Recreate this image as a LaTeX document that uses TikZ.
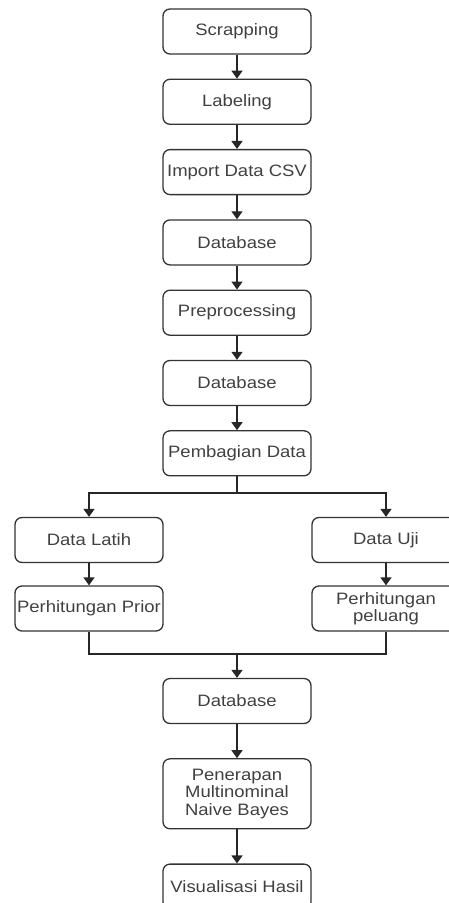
\documentclass[tikz,border=0pt]{standalone}
\usepackage{fontspec}
\setmainfont{Liberation Sans}[FakeStretch=1.12]
\usepackage{xcolor}
\usetikzlibrary{arrows.meta, positioning}

\begin{document}
\begin{tikzpicture}[
    x=1pt, y=1pt,
    font=\fontsize{16.5}{17.5}\selectfont,
    proc/.style={rectangle, rounded corners=7pt, draw=black!80, line width=1.3pt,
                 minimum width=148pt, minimum height=#1, inner sep=2pt,
                 align=center, text=black!75},
    proc/.default=45pt,
    arr/.style={-{Triangle[length=8pt, width=11pt]}, line width=1.4pt, black!85},
    link/.style={line width=1.4pt, black!85},
    node distance=24pt
  ]
  \useasboundingbox (0,0) rectangle (448,-903);

  % main chain
  \node[proc] at (237,-31.5) (scrap) {Scrapping};
  \node[proc, below=of scrap] (label) {Labeling};
  \node[proc, below=of label] (csv)   {Import Data CSV};
  \node[proc, below=of csv]   (db1)   {Database};
  \node[proc, below=of db1]   (pre)   {Preprocessing};
  \node[proc, below=of pre]   (db2)   {Database};
  \node[proc, below=of db2]   (bagi)  {Pembagian Data};

  % two branches
  \node[proc] at (89,-540)    (latih)   {Data Latih};
  \node[proc] at (386,-540)   (uji)     {Data Uji};
  \node[proc] at (89,-608.5)  (prior)   {Perhitungan Prior};
  \node[proc] at (386,-608.5) (peluang) {Perhitungan\\peluang};

  \node[proc] at (237,-701)     (db3)  {Database};
  \node[proc=70pt, below=34pt of db3] (nb) {Penerapan\\Multinominal\\Naive Bayes};
  \node[proc, below=34pt of nb] (vis) {Visualisasi Hasil};

  \coordinate (split) at (237,-493);
  \coordinate (merge) at (237,-654);

  \foreach \a/\b in {scrap/label, label/csv, csv/db1, db1/pre, pre/db2,
                     db2/bagi, latih/prior, uji/peluang, db3/nb, nb/vis}
    \draw[arr] (\a) -- (\b);

  \draw[link] (bagi) -- (split);
  \draw[arr] (split) -| (latih);
  \draw[arr] (split) -| (uji);
  \draw[link] (prior) |- (merge);
  \draw[link] (peluang) |- (merge);
  \draw[arr] (merge) -- (db3);

\end{tikzpicture}
\end{document}
